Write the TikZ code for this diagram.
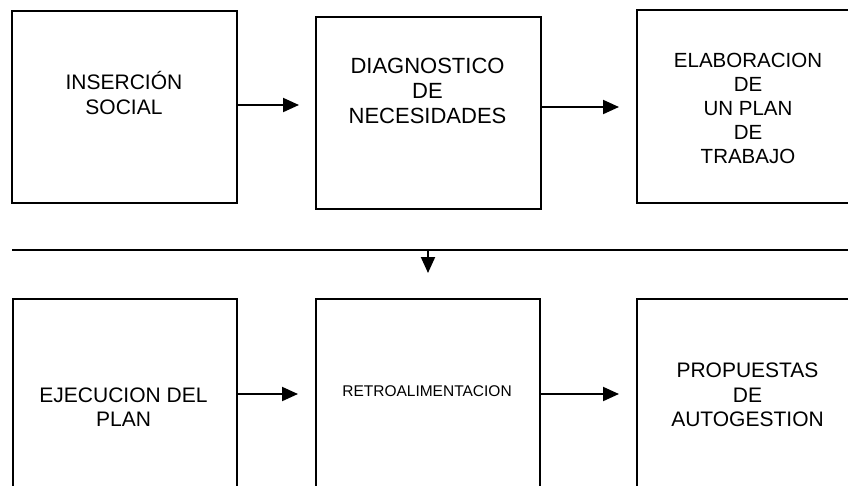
\documentclass[tikz,border=0pt]{standalone}
\usepackage{fontspec}
\setmainfont{Liberation Sans}
\usetikzlibrary{arrows.meta}
\begin{document}
\begin{tikzpicture}[x=1pt,y=-1pt,
  box/.style={draw,line width=1.8pt,anchor=north west,inner sep=0pt},
  lbl/.style={align=center,inner sep=0pt,font=\fontsize{21}{24.5}\selectfont},
  arr/.style={line width=2pt,-{Triangle[length=16pt,width=14pt]}}]
\useasboundingbox (0,0) rectangle (848,485);
\clip (0,0) rectangle (848,485);
% boxes
\node[box,minimum width=225pt,minimum height=192pt] (b1) at (11,10) {};
\node[box,minimum width=225pt,minimum height=192pt] (b2) at (315,16) {};
\node[box,minimum width=226pt,minimum height=193pt] (b3) at (636,9) {};
\node[box,minimum width=224pt,minimum height=210pt] (b4) at (12,298) {};
\node[box,minimum width=224pt,minimum height=210pt] (b5) at (315,298) {};
\node[box,minimum width=226pt,minimum height=210pt] (b6) at (636,298) {};
% labels
\node[lbl] (t1) at (124,93) {INSERCIÓN\\SOCIAL};
\node[lbl,font=\fontsize{22}{25}\selectfont] (t2) at (427.5,91) {DIAGNOSTICO\\DE\\NECESIDADES};
\node[lbl,font=\fontsize{20.5}{24}\selectfont] (t3) at (748,108.5) {ELABORACION\\DE\\UN PLAN\\DE\\TRABAJO};
\node[lbl] (t4) at (123.5,407) {EJECUCION DEL\\PLAN};
\node[lbl,font=\fontsize{15.5}{18}\selectfont] (t5) at (427,391.5) {RETROALIMENTACION};
\node[lbl] (t6) at (747.5,395) {PROPUESTAS\\DE\\AUTOGESTION};
% row levels
\coordinate (r1) at (0,105);
\coordinate (r2) at (0,107);
\coordinate (r3) at (0,394);
\coordinate (L1) at (12,250);
\coordinate (L2) at (860,250);
\coordinate (D) at (428,250);
% connectors
\draw[arr,shorten >=16pt] (b1.east |- r1) -- (b2.west |- r1);
\draw[arr,shorten >=17pt] (b2.east |- r2) -- (b3.west |- r2);
\draw[line width=2pt] (L1) -- (L2);
\draw[arr,shorten >=25pt] (D) -- (D |- b5.north);
\draw[arr,shorten >=17pt] (b4.east |- r3) -- (b5.west |- r3);
\draw[arr,shorten >=17pt] (b5.east |- r3) -- (b6.west |- r3);
\end{tikzpicture}
\end{document}
